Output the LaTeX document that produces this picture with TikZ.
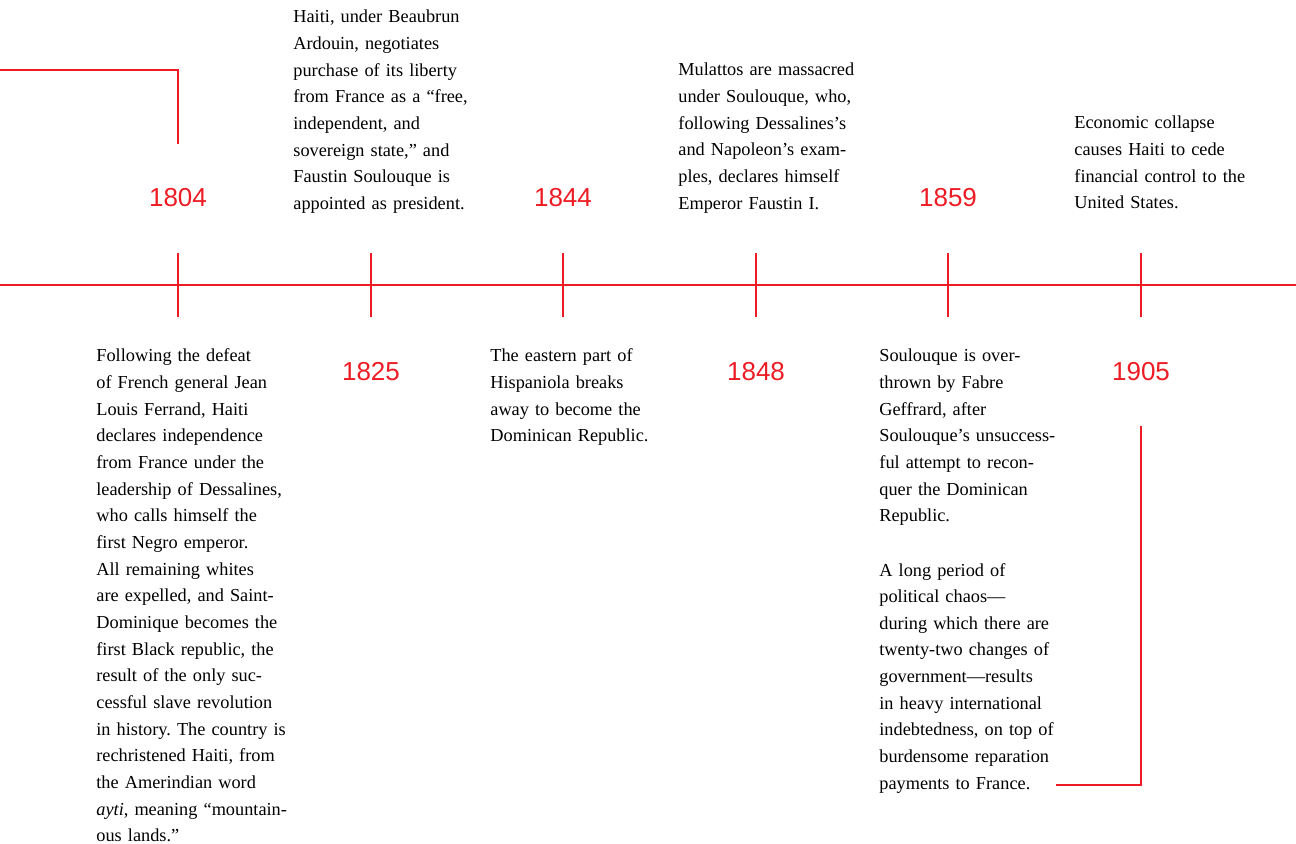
\documentclass[tikz,border=0pt]{standalone}
\usepackage{fontspec}
\setmainfont{Liberation Serif}
\newfontfamily\yearfont{Liberation Sans}
\definecolor{haitired}{RGB}{237,28,36}
\frenchspacing

\begin{document}
\begin{tikzpicture}[x=0.5pt,y=-0.5pt,year_node/.style={text=haitired,font=\yearfont\fontsize{13}{15}\selectfont,inner sep=0pt},note_node/.style={anchor=base west,inner sep=0pt,text width=130pt,align=left,font=\fontsize{9.15}{13.33}\selectfont},red_line/.style={draw=haitired,line width=1.45pt}]
		\useasboundingbox (0,0) rectangle (1296,844);

		\draw[red_line] (0,285) -- (1296,285);
		\draw[red_line] (178,253) -- (178,317);
		\draw[red_line] (371,253) -- (371,317);
		\draw[red_line] (563,253) -- (563,317);
		\draw[red_line] (756,253) -- (756,317);
		\draw[red_line] (948,253) -- (948,317);
		\draw[red_line] (1141,253) -- (1141,317);

		\node[year_node] (y1804) at (178,198) {1804};
		\node[year_node] (y1825) at (371,372) {1825};
		\node[year_node] (y1844) at (563,198) {1844};
		\node[year_node] (y1848) at (756,372) {1848};
		\node[year_node] (y1859) at (948,198) {1859};
		\node[year_node] (y1905) at (1141,372) {1905};

		\node[note_node] (n1825) at (293,23) {Haiti, under Beaubrun\\Ardouin, negotiates\\purchase of its liberty\\from France as a “free,\\independent, and\\sovereign state,” and\\Faustin Soulouque is\\appointed as president.};
		\node[note_node] (n1848) at (678,76) {Mulattos are massacred\\under Soulouque, who,\\following Dessalines’s\\and Napoleon’s exam-\\ples, declares himself\\Emperor Faustin I.};
		\node[note_node] (n1905) at (1074,129) {Economic collapse\\causes Haiti to cede\\financial control to the\\United States.};
		\node[note_node] (n1804) at (96,362) {Following the defeat\\of French general Jean\\Louis Ferrand, Haiti\\declares independence\\from France under the\\leadership of Dessalines,\\who calls himself the\\first Negro emperor.\\All remaining whites\\are expelled, and Saint-\\Dominique becomes the\\first Black republic, the\\result of the only suc-\\cessful slave revolution\\in history. The country is\\rechristened Haiti, from\\the Amerindian word\\\textit{ayti}, meaning “mountain-\\ous lands.”};
		\node[note_node] (n1844) at (490,362) {The eastern part of\\Hispaniola breaks\\away to become the\\Dominican Republic.};
		\node[note_node] (n1859) at (879,362) {Soulouque is over-\\thrown by Fabre\\Geffrard, after\\Soulouque’s unsuccess-\\ful attempt to recon-\\quer the Dominican\\Republic.};
		\node[note_node] (n1859b) at (879,576) {A long period of\\political chaos—\\during which there are\\twenty-two changes of\\government—results\\in heavy international\\indebtedness, on top of\\burdensome reparation\\payments to France.};

		\coordinate (prev) at (0,70);
		\coordinate (top1804) at (178,144);
		\coordinate (end1859) at (1056,785);
		\coordinate (top1905) at (1141,426);

		\draw[red_line] (prev) -| (top1804);
		\draw[red_line] (end1859) -| (top1905);
		\end{tikzpicture}
\end{document}
